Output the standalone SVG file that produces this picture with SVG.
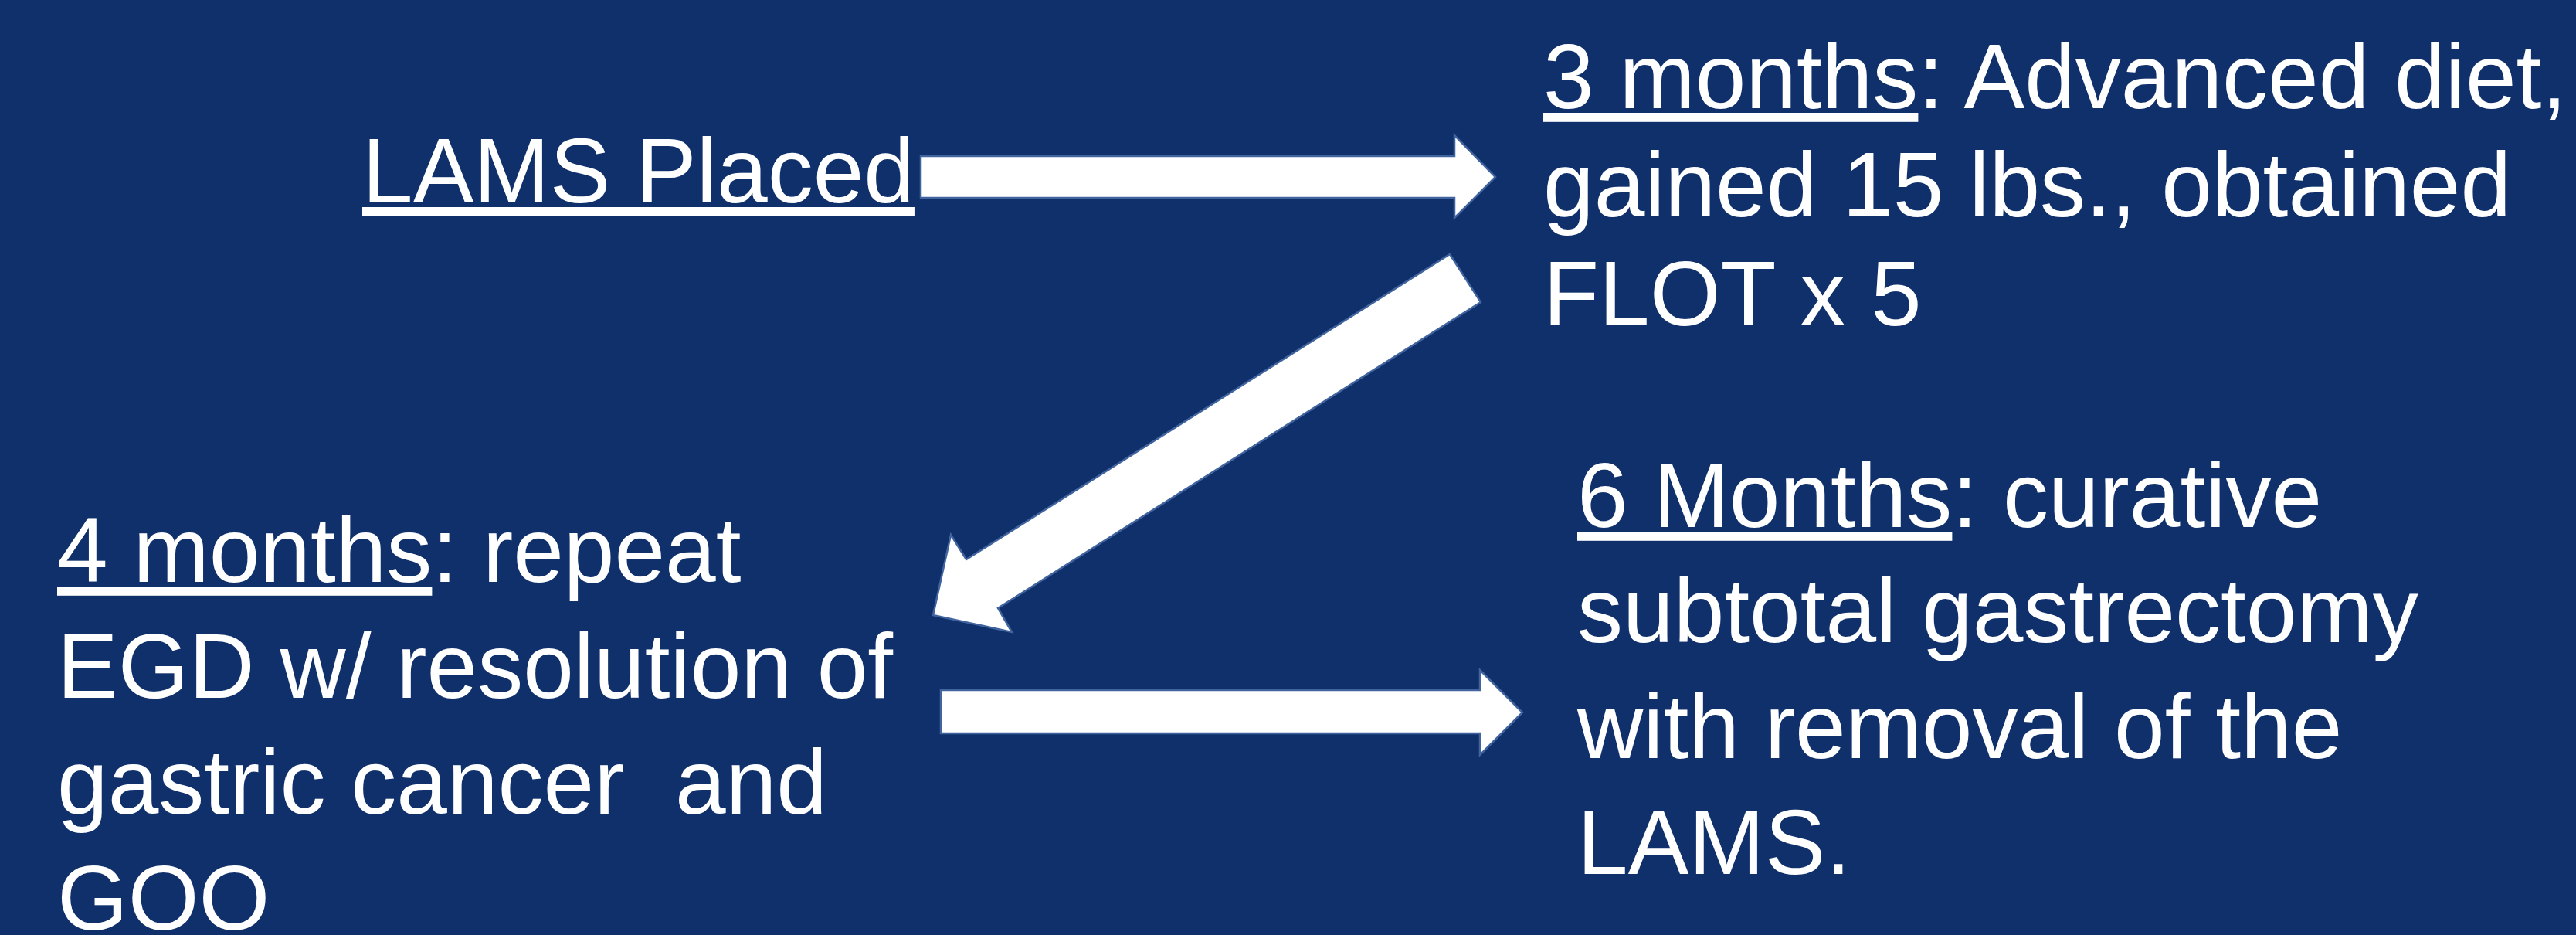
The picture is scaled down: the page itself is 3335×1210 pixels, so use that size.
<svg xmlns="http://www.w3.org/2000/svg" width="3335" height="1210" viewBox="0 0 3335 1210">
  <style>
    .bg { fill: #0f306b; }
    .t { font-family: "Liberation Sans", Arial, sans-serif; font-size: 118px; fill: #ffffff; }
    .u { text-decoration: underline; }
    .arrow { fill: #ffffff; stroke: #41649f; stroke-width: 2.5; stroke-linejoin: miter; }
  </style>
  <rect class="bg" x="0" y="0" width="3335" height="1210"/>

  <g id="connectors">
    <polygon class="arrow" points="1192,202 1883,202 1883,175 1936,229 1883,282 1883,256 1192,256"/>
    <polygon class="arrow" points="1877,329 1917,391 1292,787 1310,818 1208,796 1231,692 1251,724"/>
    <polygon class="arrow" points="1218,893 1916,893 1916,867 1971,922 1916,977 1916,949 1218,949"/>
  </g>

  <g id="node-lams-placed">
    <text class="t" x="469" y="262"><tspan class="u">LAMS Placed</tspan></text>
  </g>

  <g id="node-3-months">
    <text class="t" x="1998" y="140"><tspan class="u">3 months</tspan>: Advanced diet,</text>
    <text class="t" x="1998" y="280">gained 15 lbs., obtained</text>
    <text class="t" x="1998" y="421">FLOT x 5</text>
  </g>

  <g id="node-4-months">
    <text class="t" x="74" y="753"><tspan class="u">4 months</tspan>: repeat</text>
    <text class="t" x="74" y="903">EGD w/ resolution of</text>
    <text class="t" x="74" y="1053" xml:space="preserve">gastric cancer  and</text>
    <text class="t" x="74" y="1203">GOO</text>
  </g>

  <g id="node-6-months">
    <text class="t" x="2042" y="682"><tspan class="u">6 Months</tspan>: curative</text>
    <text class="t" x="2042" y="831">subtotal gastrectomy</text>
    <text class="t" x="2042" y="981">with removal of the</text>
    <text class="t" x="2042" y="1131">LAMS.</text>
  </g>
</svg>
